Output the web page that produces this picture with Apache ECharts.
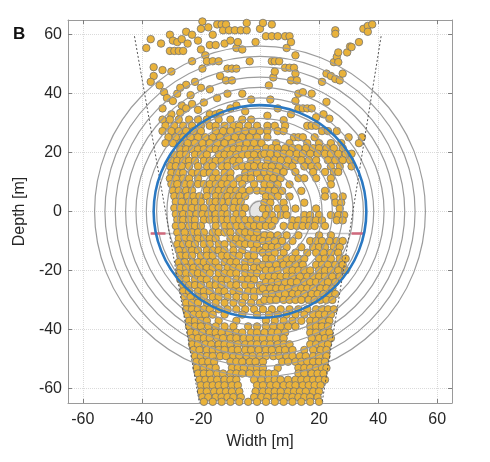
<!DOCTYPE html>
<html><head><meta charset="utf-8">
<script src="https://cdn.jsdelivr.net/npm/echarts@6/dist/echarts.min.js"></script>
<style>html,body{margin:0;padding:0;background:#fff}#c{width:490px;height:462px}</style>
</head><body><div id="c"></div>
<script>
// ---- axis ticks ----
const xTicks = [-60,-40,-20,0,20,40,60];
const yTicks = [-60,-40,-20,0,20,40,60];
// ---- reference geometry ----
const ringRadii = [3.5,7,10.5,14,17.5,21,24.5,28,31.5,35,38.5,42,45.5,49,52.5,56];
const blueRadius = [36];
const centerDisc = [4];
const leftEdge = [[-42.5,59.5],[-20.5,-65]];
const rightEdge = [[41,59.5],[21,-65]];
const crossLine = [[-37,-7.5],[34.5,-7.5]];
const leftMark = [[-37,-7.5],[-32,-7.5]];
const rightMark = [[31,-7.5],[35,-7.5]];
// ---- sparse points at top [x,y] ----
const topPts = [
[-38.5,55.5],[-37,58.5],[-36,46],[-37,44],[-34,42.8],[-33.5,57],[-32.5,40.5],[-31.5,38.5],[-30.5,60],[-30.5,54.5],[-29.5,58],[-29.5,37.5],[-29,54.5],[-28,57.5],[-27.5,54.5],[-26.5,58.5],[-26.5,36],[-26,54.5],[-25,43],[-25,35],[-25,61],[-24.5,57],[-23.5,39.5],[-23,60],[-23,51],[-23,36.5],[-22,44],[-21,34.5],[-20,62],[-20,55],[-20,42],[-19.5,64.5],[-19.5,48.5],[-18.5,53],[-18,51],[-17.5,62.5],[-17,56.5],[-17,41.5],[-17,33],[-16,60],[-16,51],[-15,56.5],[-15,33],[-14.5,63.5],[-14.5,38.5],[-14,51],[-13.5,46],[-13.5,33.5],[-13,63.5],[-12.5,61.5],[-12,57],[-11.5,63.5],[-11.5,44.5],[-11,48.5],[-10.5,61.5],[-10,58],[-9.5,48.5],[-9.5,44.5],[-8.5,61.5],[-8,55.5],[-8,48.5],[-8,36],[-7.5,57.5],[-6.5,61.5],[-6,55],[-6,40],[-4.5,64],[-4.5,61.5],[-3.5,51],[-3,38],[-1.5,57.5],[0,62],[1,64],
[-28,40],[-27,42],[-19,37],[-11,40],[-10,35],[-5,34],[-30,33],[-27,33.5],[-33,35],[-36,49],[-33,48],[-30,47.5],[-21,58],
[2,59.5],[2.5,32.5],[3,42.8],[3.5,38],[4,63.5],[4,59.5],[4,51],[4.5,45.5],[5,51],[5,47.5],[6,59.5],[6.5,51],[8.5,59.5],[8.5,48.8],[9,55.5],[10,59.5],[10,48.8],[10.5,57.5],[10.5,44.5],[10.5,33],[11.5,48.8],[12,53],[12,46.8],[12,37.5],[12.5,44.5],[13,40],[13,35],[14.5,40.5],[14.5,35],[16,35],[17.5,40],[17.5,35],[21,44],[21.5,33],[22.5,46.8],[22.5,37.2],[23.5,31.5],[24,46],[25,50.7],[25.5,61.5],[25.5,60.3],[25.5,45],[26,52.5],[26.5,54],[26.5,50.7],[27,44.5],[28,46.8],[29.5,54],[30.5,56],[31,55.8],[33.5,57.5],[35,62],[36.5,63],[36.5,61],[38,63.5],[8,31],[19,32],[6,35]
];
// ---- rows: first value is depth y, the rest are widths x ----
const topRows = [
[31.2,-33,-30.5,-27.5,-24,-21,-18,-14,-10,-6,-3],
[29.1,-32,-29,-26,-23,-20,-17,-15,-12,-9,-7,-4,-1,2.5,5,8.5,16,17.5,19],
[27.3,-33,-30,-27.5,-25,-22.5,-20,-15,-12.5,-10,-7.5,-5,-2.5,0,2.5,6,8,21,23,26],
[25.2,-31,-28.5,-26,-23.5,-21,-18.5,-16,-13.5,-11,-8.5,-6,-3.5,-1,2.5,11.5,13,14.5,18.5,30,34.5],
[23.2,-32,-29.5,-27,-24.5,-22,-19.5,-17,-14.5,-12,-9.5,-7,-4.5,-2,0.5,5.5,10,16,20,24,27.5,33.5]
];
const midLeftRows = [
[21.1,-27,-25,-23,-21,-19,-17,-15,-13,-11,-9,-7,-5,-3,-1],
[19.3,-29,-27,-25,-22,-20,-18,-14,-12,-10,-8,-6,-4,-2,0.5],
[17.2,-30,-28,-26,-24,-22,-19,-17,-15,-13,-11,-9,-7,-3,-1],
[15.4,-30.5,-28.5,-26.5,-24,-21,-18,-16,-13,-11,-8,-6,-4,-2,0.5],
[13.1,-30,-28,-26,-23,-21,-19,-17,-15,-12,-10,-5,-3,-1],
[11.2,-30.5,-28.5,-26,-24,-21,-16,-14,-12,-10,-7,-5,-3,0],
[9.3,-30,-28,-25.5,-23.5,-21,-19,-17,-15,-13,-11,-9,-6,-2],
[7.1,-29.5,-27.5,-25,-23,-18,-16,-14,-12,-10,-8,-6,-3.5,-1],
[5.2,-29,-27,-24.5,-22.5,-20.5,-18,-15,-13,-11,-9,-7,-5],
[3.3,-28.5,-26.5,-24,-22,-20,-17,-15,-13,-10.5,-8.5,-6.5],
[1.2,-29,-27,-25,-23,-21,-19,-16,-14,-12,-9,-7,-5],
[-0.9,-28.5,-26,-24,-21.5,-19.5,-17.5,-15,-13,-11,-8,-6],
[-2.8,-28,-26,-24,-22,-19,-17,-15,-13,-11,-9,-7,-5,-3,-1,1],
[-4.9,-28.5,-26.5,-24,-22,-20,-15,-12,-10,-8,-6,-4,-2,0],
[-7.1,-28,-25.5,-23,-21,-19,-16,-14,-12,-10,-7,-5,-3,-1],
[-9.2,-27.5,-25.5,-23.5,-21,-19,-17,-15,-10,-8,-6,-4,-2,0],
[-11.1,-28,-26,-24,-22,-19,-17,-14,-12,-9,-7,-5,-3,-1],
[-13.2,-27.5,-25,-23,-21,-18,-16,-14,-12,-9,-6,-2,0],
[-15.0,-27,-25,-23,-20,-18,-16,-13,-11,-9,-7,-4,-2],
[-17.2,-27.5,-25.5,-23,-21,-19,-17,-15,-12,-10,-8,-5,-3,-1],
[-19.1,-27,-25,-22.5,-20.5,-18,-16,-14,-11,-9,-7,-5,-2,0],
[-21.0,-27.5,-25,-23,-21,-19,-17,-14,-12,-10,-8,-5,-3,-1],
[-23.1,-27,-25,-22,-20,-18,-15,-13,-11,-8,-6,-4,-2],
[-25.0,-26,-24,-22,-20,-17,-15,-13,-10,-8,-5,-3,0],
[-27.1,-26,-24,-21,-19,-17,-14,-12,-9,-7,-4,-2,0],
[-29.0,-25.5,-23.5,-21,-19,-16,-14,-11,-8,-5,-2],
[-31.0,-25,-23,-21,-18,-15,-12,-9,-6,-3,0]
];
const midRightRows = [
[21.5,2,4,6,8.5,11,13,15.5,18,20,22.5,25,28],
[19.6,1.5,3.5,6,8,10,12.5,14.5,17,19.5,22,24,26.5,29,31],
[17.4,2.5,5,7,9.5,12,14,16.5,19,23,25.5,28,30.5],
[15.3,2,4,6.5,9,11,15,17.5,19.5,24,27,31],
[13.4,1.5,3.5,5.5,8,12,18,22,25,26.5],
[11.3,2.5,4.5,7,13,15,19,24],
[9.2,1.5,3.5,6,10,24],
[7.0,1,3,5,7.5,14,22],
[5.1,2,4,6,10,22,25,28],
[3.0,1.5,3.5,8,15,25.5,27.5],
[1.0,1,3,6,8.5,12,19,27],
[-1.2,2,4,7,9,15,17,20,24,26.5,28.5],
[-3.0,3,5,11,13,15,17,19,21,26,28],
[-4.9,2,4,8,10.5,12.5,14.5,16.5,18.5,22],
[-8.1,1.5,3.5,6,9,13,20,24],
[-10.0,1,3,5,7.5,11,17,19,21,23.5,26,28],
[-12.1,2,4,6,9,14,18,20,22,25,27],
[-14.0,1,3,5,8,12,16,19,21.5,24,26.5],
[-16.0,2,4,7,9,11,13,15,20,22,24,27,29],
[-18.1,1,3,5.5,8,10,12,14.5,19,21,23,25.5,28],
[-20.0,2,4,6,9,11,13,15,17,20,22,24,26.5,29],
[-22.1,1,3,5,7,9,11,13.5,16,18,20,22,24.5,27],
[-24.0,2,4,6,8.5,10.5,12.5,15,17,19,21,23,25.5],
[-26.1,1,3.5,5.5,7.5,9.5,12,14,16,18,20.5,22.5,24.5],
[-28.0,2,4,6.5,8.5,11,13,15,17.5,19.5,21.5,23.5,25.5],
[-30.0,1.5,3.5,5.5,8,10,12,14,16.5,18.5,20.5,22.5,24.5]
];
const bottomRows = [
[-33.2,-25,-23,-21,-19,-17,-14,-11,-8,-5,-2,1,4,7,10,13,16,19,21,23,25],
[-35.0,-24.5,-22.5,-20.5,-18.5,-16,-12,-6,-1,3,6,9,12,15,18,20,22,24],
[-37.1,-24,-22,-20,-18,-14,-8,2,5,8,11,14,17,19,21,23.5],
[-39.0,-24,-22,-20,-17.5,-15,-12,-9,-4,-1,2,4.5,7,9.5,12,17,19,21,23],
[-41.1,-23.5,-21.5,-19.5,-17,-15,-13,-10.5,-8,-6,-3,-1,1.5,4,6,8.5,17,19,21.5,23.5],
[-43.0,-23,-21,-19,-17,-14.5,-12.5,-10,-8,-5.5,-3.5,-1,1,3.5,5.5,8,17.5,20,22,24],
[-45.1,-23,-21,-18.5,-16.5,-14,-12,-10,-7.5,-5,-3,-1,1.5,3.5,6,8,10,17,19,21,23],
[-47.0,-22.5,-20.5,-18,-16,-14,-12,-9.5,-7.5,-5,-3,-0.5,2,4,6.5,8.5,11,15,18,20.5,22.5],
[-49.1,-22,-20,-18,-16,-13.5,-11.5,-9,-7,-4.5,-2.5,0,2,4.5,6.5,9,11,13.5,15.5,18,20,22.5],
[-51.0,-21.5,-19.5,-17.5,-15.5,-10,-8,-6,-3.5,-1.5,1,7.5,9.5,12,14,16,18,20,22],
[-53.1,-21.5,-19,-17,-15,-9.5,-7.5,-5.5,-3,-1,1,6,13,15,17,19,21,22.5],
[-55.0,-21,-19,-17,-14.5,-12.5,-10,-8,-6,-3.5,-1,1,3,5,13,15,17.5,19.5,21.5],
[-57.1,-20.5,-18.5,-16.5,-14.5,-12,-10,-8,-2,0.5,3,5,7,9.5,12,14,16,18,20,22],
[-59.0,-20,-18,-16,-14,-12,-9.5,-7.5,-1,1,3.5,5.5,8,10,12,14.5,16.5,18.5,20.5],
[-61.1,-20,-18,-15.5,-13.5,-11.5,-9.5,-7,-1.5,1,3,5,7,9.5,11.5,13.5,15.5,18,20],
[-63.0,-19.5,-17.5,-15,-13,-11,-9,-6.5,-2,0.5,2.5,5,7,9,11,13,15,17,19.5],
[-64.6,-19,-16,-13,-10,-7,-4,-1,2,5,8,11,14,17,20]
];

function rowsToPts(rows){
  const out=[];
  rows.forEach(r=>{ for(let i=1;i<r.length;i++) out.push([r[i], r[0]]); });
  return out;
}
const points = topPts.concat(rowsToPts(topRows), rowsToPts(midLeftRows), rowsToPts(midRightRows), rowsToPts(bottomRows));

const FONT = 'Liberation Sans, Arial, Helvetica, sans-serif';
function circleSeries(radii, stroke, fill, lw, z){
  return {
    type:'custom', coordinateSystem:'cartesian2d', silent:true, z:z,
    data: radii.map(r=>[0,0,r]),
    encode:{x:0,y:1},
    renderItem:function(params, api){
      const c = api.coord([api.value(0), api.value(1)]);
      const s = api.size([api.value(2), 0]);
      return {type:'circle', shape:{cx:c[0], cy:c[1], r:s[0]},
        style:{fill:fill, stroke:stroke, lineWidth:lw}};
    }
  };
}
function lineSeries(data, color, width, type, z){
  return {type:'line', data:data, symbol:'none', silent:true, z:z,
    lineStyle:{color:color, width:width, type:type}, animation:false};
}
const axisCommon = {
  type:'value', min:-65, max:65, interval:5,
  axisLine:{show:true, onZero:false, lineStyle:{color:'#9a9a9a', width:1}},
};
const chart = echarts.init(document.getElementById('c'));
chart.setOption({
  animation:false,
  backgroundColor:'#fff',
  grid:{left:68, top:20, right:38, bottom:59, containLabel:false},
  graphic:[{type:'text', left:13, top:26, style:{text:'B', font:'bold 17px '+FONT, fill:'#111'}}],
  xAxis:[
    Object.assign({}, axisCommon, {
      position:'bottom',
      name:'Width [m]', nameLocation:'middle', nameGap:31,
      nameTextStyle:{fontSize:16, color:'#262626', fontFamily:FONT},
      axisTick:{show:true, inside:true, length:4, customValues:xTicks, lineStyle:{color:'#7f7f7f'}},
      axisLabel:{customValues:xTicks, fontSize:16, color:'#262626', fontFamily:FONT, margin:9,
        formatter:v=> (v%20===0? String(v):'')},
      splitLine:{show:true, lineStyle:{color:'#dadada', type:'dotted', width:1}}
    }),
    Object.assign({}, axisCommon, {
      position:'top',
      axisTick:{show:true, inside:true, length:4, customValues:xTicks, lineStyle:{color:'#7f7f7f'}},
      axisLabel:{show:false}, splitLine:{show:false}
    })
  ],
  yAxis:[
    Object.assign({}, axisCommon, {
      position:'left',
      name:'Depth [m]', nameLocation:'middle', nameGap:39, nameRotate:90,
      nameTextStyle:{fontSize:16, color:'#262626', fontFamily:FONT},
      axisTick:{show:true, inside:true, length:4, customValues:yTicks, lineStyle:{color:'#7f7f7f'}},
      axisLabel:{customValues:yTicks, fontSize:16, color:'#262626', fontFamily:FONT, margin:6,
        formatter:v=> (v%20===0? String(v):'')},
      splitLine:{show:true, lineStyle:{color:'#dadada', type:'dotted', width:1}}
    }),
    Object.assign({}, axisCommon, {
      position:'right',
      axisTick:{show:true, inside:true, length:4, customValues:yTicks, lineStyle:{color:'#7f7f7f'}},
      axisLabel:{show:false}, splitLine:{show:false}
    })
  ],
  series:[
    circleSeries(centerDisc, 'none', '#e6e6e6', 0, 1),
    lineSeries(crossLine, '#c4c4c4', 1.5, 'solid', 2),
    {type:'scatter', data:points, symbol:'circle', symbolSize:7.5, z:3,
      itemStyle:{color:'#E9B23A', borderColor:'#737373', borderWidth:0.8, opacity:1}, silent:true},
    circleSeries(ringRadii, '#9c9c9c', 'none', 1.2, 4),
    lineSeries(leftEdge, '#555555', 1, [2,2], 5),
    lineSeries(rightEdge, '#555555', 1, [2,2], 5),
    lineSeries(leftMark, '#d0697c', 2.5, 'solid', 6),
    lineSeries(rightMark, '#d0697c', 2.5, 'solid', 6),
    circleSeries(blueRadius, '#2a78c2', 'none', 2.6, 7)
  ]
});
</script></body></html>
